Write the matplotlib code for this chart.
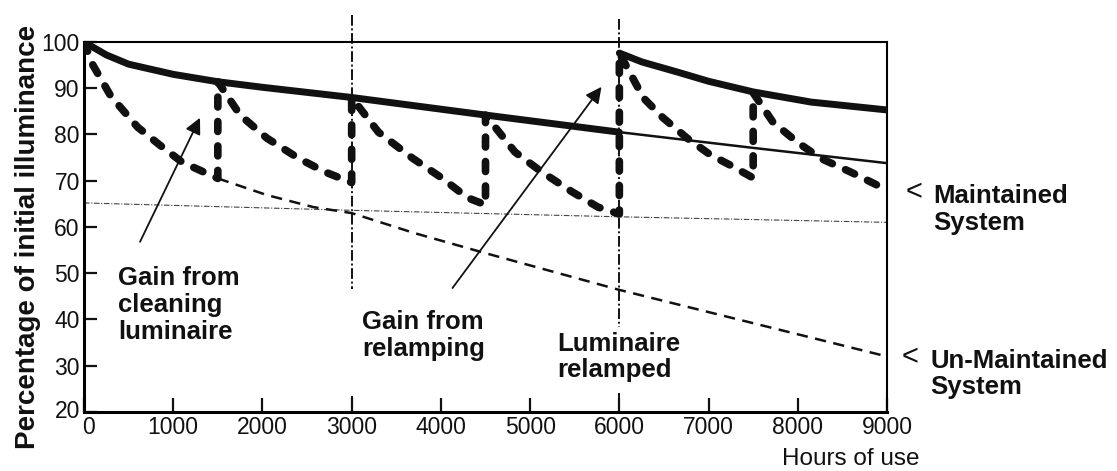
import numpy as np
import matplotlib.pyplot as plt
import matplotlib.transforms as mtransforms

plt.rcParams['font.family'] = ['Liberation Sans', 'DejaVu Sans']

# lamp lumen depreciation (solid), before and after the relamp at 6000 h
lamp_hours = [0, 250, 500, 1000, 1500, 2000, 3000, 4500, 6000]
lamp_pct = [100, 97.2, 95.2, 93.0, 91.4, 90.2, 88.0, 84.2, 80.5]
old_lamp_hours = [6000, 6750, 7500, 9000]
old_lamp_pct = [80.5, 78.8, 77.1, 73.8]
new_lamp_hours = [6000, 6250, 6650, 7000, 7500, 8150, 9000]
new_lamp_pct = [97.6, 95.7, 93.5, 91.5, 89.2, 87.0, 85.3]

# maintained system: cleaning every 1500 h, relamping at 6000 h
maint_hours = [0, 100, 300, 600, 850, 1100, 1500,
               1500, 1750, 2050, 2400, 2700, 3000,
               3000, 3300, 3680, 4010, 4300, 4500,
               4500, 4830, 5130, 5470, 5760, 6000,
               6000, 6270, 6490, 6760, 7020, 7240, 7500,
               7500, 7720, 7990, 8250, 8590, 9000]
maint_pct = [100, 95.0, 88.3, 81.6, 77.7, 74.0, 70.5,
             91.4, 84.2, 79.2, 74.9, 71.9, 69.6,
             88.0, 80.5, 74.9, 70.6, 66.3, 64.8,
             84.2, 76.2, 71.9, 67.6, 64.3, 62.8,
             97.6, 87.9, 83.6, 79.2, 75.6, 73.4, 70.6,
             89.0, 82.7, 78.4, 74.9, 71.9, 68.0]

# un-maintained system
unmaint_hours = [1500, 2050, 2570, 3000, 3700, 4450, 6000, 7500, 9000]
unmaint_pct = [70.5, 66.9, 64.3, 63.0, 58.7, 54.6, 46.4, 39.2, 32.0]

# faint reference line
ref_hours = [0, 3000, 6000, 9000]
ref_pct = [65.2, 63.6, 62.2, 61.0]

# relamping markers: (hours, top, bottom) pieces
relamp_marks = [(3000, 105.8, 46.6), (3000, 23.5, 20),
                (6000, 105.0, 38.4), (6000, 24.0, 20)]

fig = plt.figure(figsize=(11.17, 4.71), dpi=100)
ax = fig.add_axes([0.0752, 0.1253, 0.7189, 0.7856])

ink = '#111111'

for h, top, bot in relamp_marks:
    ax.plot([h, h], [top, bot], color=ink, lw=1.4, ls=(0, (5.5, 1.4, 1.0, 1.4)),
            clip_on=False, zorder=1)

ax.plot(ref_hours, ref_pct, color='#444444', lw=0.8, ls=(0, (5, 1.5, 1, 1.5)), zorder=2)
ax.plot(unmaint_hours, unmaint_pct, color=ink, lw=1.8, ls=(0, (4.5, 3.0)), zorder=2)

ax.plot(lamp_hours, lamp_pct, color=ink, lw=5, solid_capstyle='round', zorder=3)
ax.plot(old_lamp_hours, old_lamp_pct, color=ink, lw=1.8, zorder=3)
ax.plot(new_lamp_hours, new_lamp_pct, color=ink, lw=5, solid_capstyle='round', zorder=3)

ax.plot(maint_hours, maint_pct, color=ink, lw=5.5, ls=(0, (1.3, 1.9)),
        dash_capstyle='round', dash_joinstyle='round', zorder=4)

ax.set_xlim(0, 9000)
ax.set_ylim(20, 100)
ax.set_xticks(np.arange(0, 9001, 1000))
ax.set_yticks(np.arange(20, 101, 10))
ax.tick_params(direction='in', length=10, width=1.6, labelsize=16.5, pad=3, colors=ink)
ax.tick_params(axis='y', length=9, pad=3)
ax.spines['left'].set_linewidth(2.2)
ax.spines['bottom'].set_linewidth(2.2)
ax.spines['top'].set_linewidth(1.5)
ax.spines['right'].set_linewidth(1.5)

# nudge the corner labels apart, as in the original
fig.canvas.draw()
ax.get_xticklabels()[0].set_transform(
    ax.get_xticklabels()[0].get_transform()
    + mtransforms.ScaledTranslation(5 / 100, 0, fig.dpi_scale_trans))
ax.get_yticklabels()[0].set_transform(
    ax.get_yticklabels()[0].get_transform()
    + mtransforms.ScaledTranslation(0, 3 / 100, fig.dpi_scale_trans))

# annotations
txt = dict(fontsize=18.5, fontweight='bold', color=ink, linespacing=1.15)
ax.text(381, 43.2, 'Gain from\ncleaning\nluminaire', ha='left', va='center', **txt)
ax.text(3116, 36.6, 'Gain from\nrelamping', ha='left', va='center', **txt)
ax.text(5302, 31.9, 'Luminaire\nrelamped', ha='left', va='center', **txt)
ax.text(9300, 67.6, '<', ha='center', va='center', clip_on=False, fontsize=21, color=ink)
ax.text(9516, 63.8, 'Maintained\nSystem', ha='left', va='center', clip_on=False, **txt)
ax.text(9255, 31.9, '<', ha='center', va='center', clip_on=False, fontsize=21, color=ink)
ax.text(9482, 28.2, 'Un-Maintained\nSystem', ha='left', va='center', clip_on=False, **txt)

arrow = dict(arrowstyle='-|>', lw=1.3, color=ink, mutation_scale=24, shrinkA=0, shrinkB=0)
ax.annotate('', xy=(1300, 83.6), xytext=(628, 56.8), arrowprops=arrow)
ax.annotate('', xy=(5800, 90.3), xytext=(4130, 46.8), arrowprops=arrow)

fig.text(28 / 1117, 1 - 237 / 471, 'Percentage of initial illuminance', rotation=90,
         ha='center', va='center', fontsize=20, fontweight='bold', color=ink)
fig.text(851 / 1117, 1 - 459 / 471, 'Hours of use', ha='center', va='center',
         fontsize=17.5, color=ink)

fig.savefig('out.png', dpi=100, facecolor='white')
